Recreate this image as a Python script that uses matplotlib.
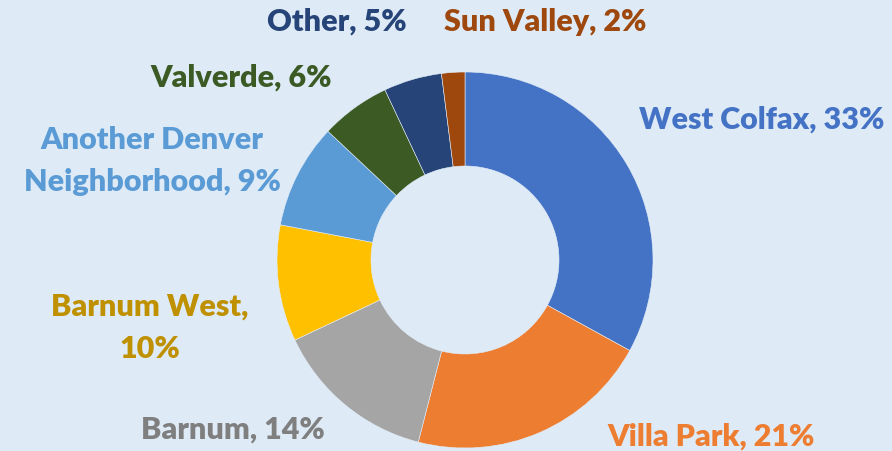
import matplotlib.pyplot as plt

# data
names = ['West Colfax', 'Villa Park', 'Barnum', 'Barnum West',
         'Another Denver\nNeighborhood', 'Valverde', 'Other', 'Sun Valley']
shares = [33, 21, 14, 10, 9, 6, 5, 2]

slice_colors = ['#4472C4', '#ED7D31', '#A5A5A5', '#FFC000',
                '#5B9BD5', '#3B5A24', '#264478', '#9E480E']
label_colors = ['#4472C4', '#ED7D31', '#7F7F7F', '#BF9000',
                '#5B9BD5', '#3B5A24', '#264478', '#9E480E']
# label centres in pixel coords (x, y from top)
label_pos = [(762, 120), (711, 437), (233, 430), (150, 328),
             (152, 161), (241, 78), (337, 22), (545, 22)]
label_text = ['West Colfax, 33%', 'Villa Park, 21%', 'Barnum, 14%',
              'Barnum West,\n10%', 'Another Denver\nNeighborhood, 9%',
              'Valverde, 6%', 'Other, 5%', 'Sun Valley, 2%']

W, H = 892, 451
bg = '#DEEBF7'

fig = plt.figure(figsize=(W / 100, H / 100), dpi=100, facecolor=bg)
ax = fig.add_axes([0, 0, 1, 1])
ax.set_facecolor(bg)

ax.pie(shares, colors=slice_colors, startangle=90, counterclock=False,
       center=(465, H - 260), radius=188, frame=True,
       wedgeprops=dict(width=94, edgecolor='#E3EDF8', linewidth=0.4))
ax.set_xlim(0, W)
ax.set_ylim(0, H)
ax.axis('off')

for txt, (x, y), c in zip(label_text, label_pos, label_colors):
    ax.text(x, H - y, txt, color=c, fontsize=22, fontweight='heavy',
            family=['Lato', 'DejaVu Sans'], ha='center', va='center',
            linespacing=1.65)

fig.savefig('out.png', dpi=100, facecolor=bg)
